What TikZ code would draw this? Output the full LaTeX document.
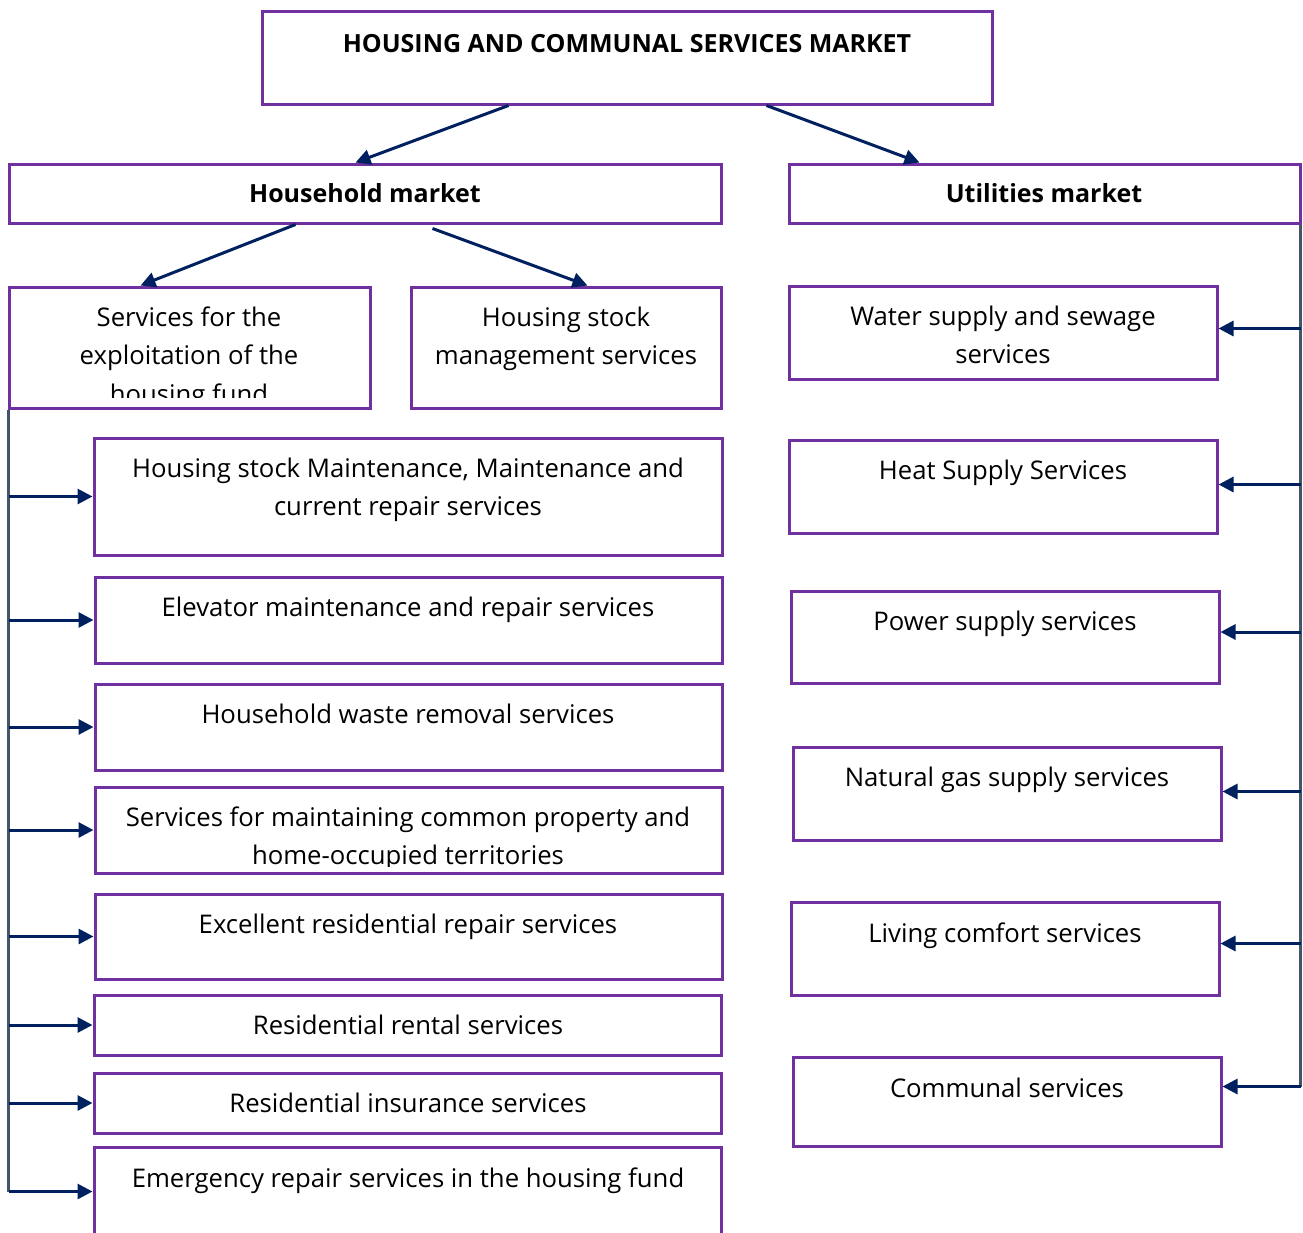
\documentclass[tikz,border=0pt]{standalone}
\usepackage{fontspec}
\setmainfont{Open Sans}
\usetikzlibrary{arrows.meta}
\definecolor{boxpurple}{HTML}{7030A0}
\definecolor{arrnavy}{HTML}{002060}
\definecolor{vgray}{HTML}{44546A}
\tikzset{
  box/.style={draw=boxpurple, line width=3pt, inner sep=0pt, fill=none},
  txt/.style={anchor=north, inner sep=0pt, align=center, font=\fontsize{25.7}{38.5}\selectfont},
  btxt/.style={anchor=base, inner sep=0pt, font=\bfseries\fontsize{25}{30}\selectfont},
  arr/.style={draw=arrnavy, line width=3pt, -{Triangle[length=15pt,width=15pt]}},
  vline/.style={draw=vgray, line width=3pt}
}
\newcommand{\bx}[5]{%
  \node[box, minimum width={#4-#2}, minimum height={#5-#3}] (#1) at ({(#2+#4)/2},{-(#3+#5)/2}) {};}
\begin{document}
\begin{tikzpicture}[x=1pt,y=1pt]
\clip (0,0) rectangle (1303,-1232);
\fill[white] (0,0) rectangle (1303,-1232);
% boxes
\bx{top}{262}{11}{992}{104}
\bx{hh}{9}{164}{721}{223}
\bx{ut}{789}{164}{1300}{223}
\bx{exp}{9}{287}{370}{408}
\bx{mgmt}{411}{287}{721}{408}
\bx{l1}{94}{438}{722}{555}
\bx{l2}{95}{577}{722}{663}
\bx{l3}{95}{684}{722}{770}
\bx{l4}{95}{787}{722}{873}
\bx{l5}{95}{894}{722}{979}
\bx{l6}{94}{995}{721}{1055}
\bx{l7}{94}{1073}{721}{1133}
\bx{l8}{94}{1147}{721}{1236}
\bx{r1}{789}{286}{1217}{379}
\bx{r2}{789}{440}{1217}{533}
\bx{r3}{791}{591}{1219}{683}
\bx{r4}{793}{747}{1221}{840}
\bx{r5}{791}{902}{1219}{995}
\bx{r6}{793}{1057}{1221}{1146}
% texts
\node[btxt] (ttop) at (627,-52) {HOUSING AND COMMUNAL SERVICES MARKET};
\node[btxt] (thh) at (365,-202) {Household market};
\node[btxt] (tut) at (1044,-202) {Utilities market};
\begin{scope}
\clip (12,-290) rectangle (367,-397);
\node[txt] (texp) at (189,-299) {\strut Services for the\\exploitation of the\\housing fund};
\end{scope}
\node[txt] (tmgmt) at (566,-299) {\strut Housing stock\\management services};
\node[txt] (tl1) at (408,-450) {\strut Housing stock Maintenance, Maintenance and\\current repair services};
\node[txt] (tl2) at (408,-589) {\strut Elevator maintenance and repair services};
\node[txt] (tl3) at (408,-696) {\strut Household waste removal services};
\begin{scope}
\clip (98,-790) rectangle (719,-866);
\node[txt] (tl4) at (408,-799) {\strut Services for maintaining common property and\\home-occupied territories};
\end{scope}
\node[txt] (tl5) at (408,-906) {\strut Excellent residential repair services};
\node[txt] (tl6) at (408,-1007) {\strut Residential rental services};
\node[txt] (tl7) at (408,-1085) {\strut Residential insurance services};
\node[txt] (tl8) at (408,-1160) {\strut Emergency repair services in the housing fund};
\node[txt] (tr1) at (1003,-298) {\strut Water supply and sewage\\services};
\node[txt] (tr2) at (1003,-452) {\strut Heat Supply Services};
\node[txt] (tr3) at (1005,-603) {\strut Power supply services};
\node[txt] (tr4) at (1007,-759) {\strut Natural gas supply services};
\node[txt] (tr5) at (1005,-915) {\strut Living comfort services};
\node[txt] (tr6) at (1007,-1070) {\strut Communal services};
% top-level arrows
\draw[arr] ([xshift=248pt]top.south west) -- ([xshift=348pt]hh.north west);
\draw[arr] ([xshift=506pt]top.south west) -- ([xshift=132pt]ut.north west);
\draw[arr] ([xshift=288pt]hh.south west) -- ([xshift=133pt]exp.north west);
\draw[arr] ([xshift=425pt,yshift=-4pt]hh.south west) -- ([xshift=178pt]mgmt.north west);
% left bus
\coordinate (lbot) at ([xshift=1pt]exp.south west |- l8.west);
\draw[vline] ([xshift=1pt]exp.south west) -- (lbot);
\foreach \b in {l1,l2,l3,l4,l5,l6,l7,l8}{
  \draw[arr] (lbot |- \b.west) -- (\b.west);
}
% right bus
\coordinate (e1) at ([yshift=4pt]r1.east);
\coordinate (e2) at ([yshift=2pt]r2.east);
\coordinate (e3) at ([yshift=5pt]r3.east);
\coordinate (e4) at ([yshift=2pt]r4.east);
\coordinate (e5) at ([yshift=5pt]r5.east);
\coordinate (e6) at ([yshift=15pt]r6.east);
\coordinate (rtop) at ([xshift=-1pt]ut.south east);
\coordinate (rbot) at (rtop |- e6);
\draw[vline] (rtop) -- (rbot);
\foreach \e in {e1,e2,e3,e4,e5,e6}{
  \draw[arr] (rtop |- \e) -- (\e);
}
\end{tikzpicture}
\end{document}
